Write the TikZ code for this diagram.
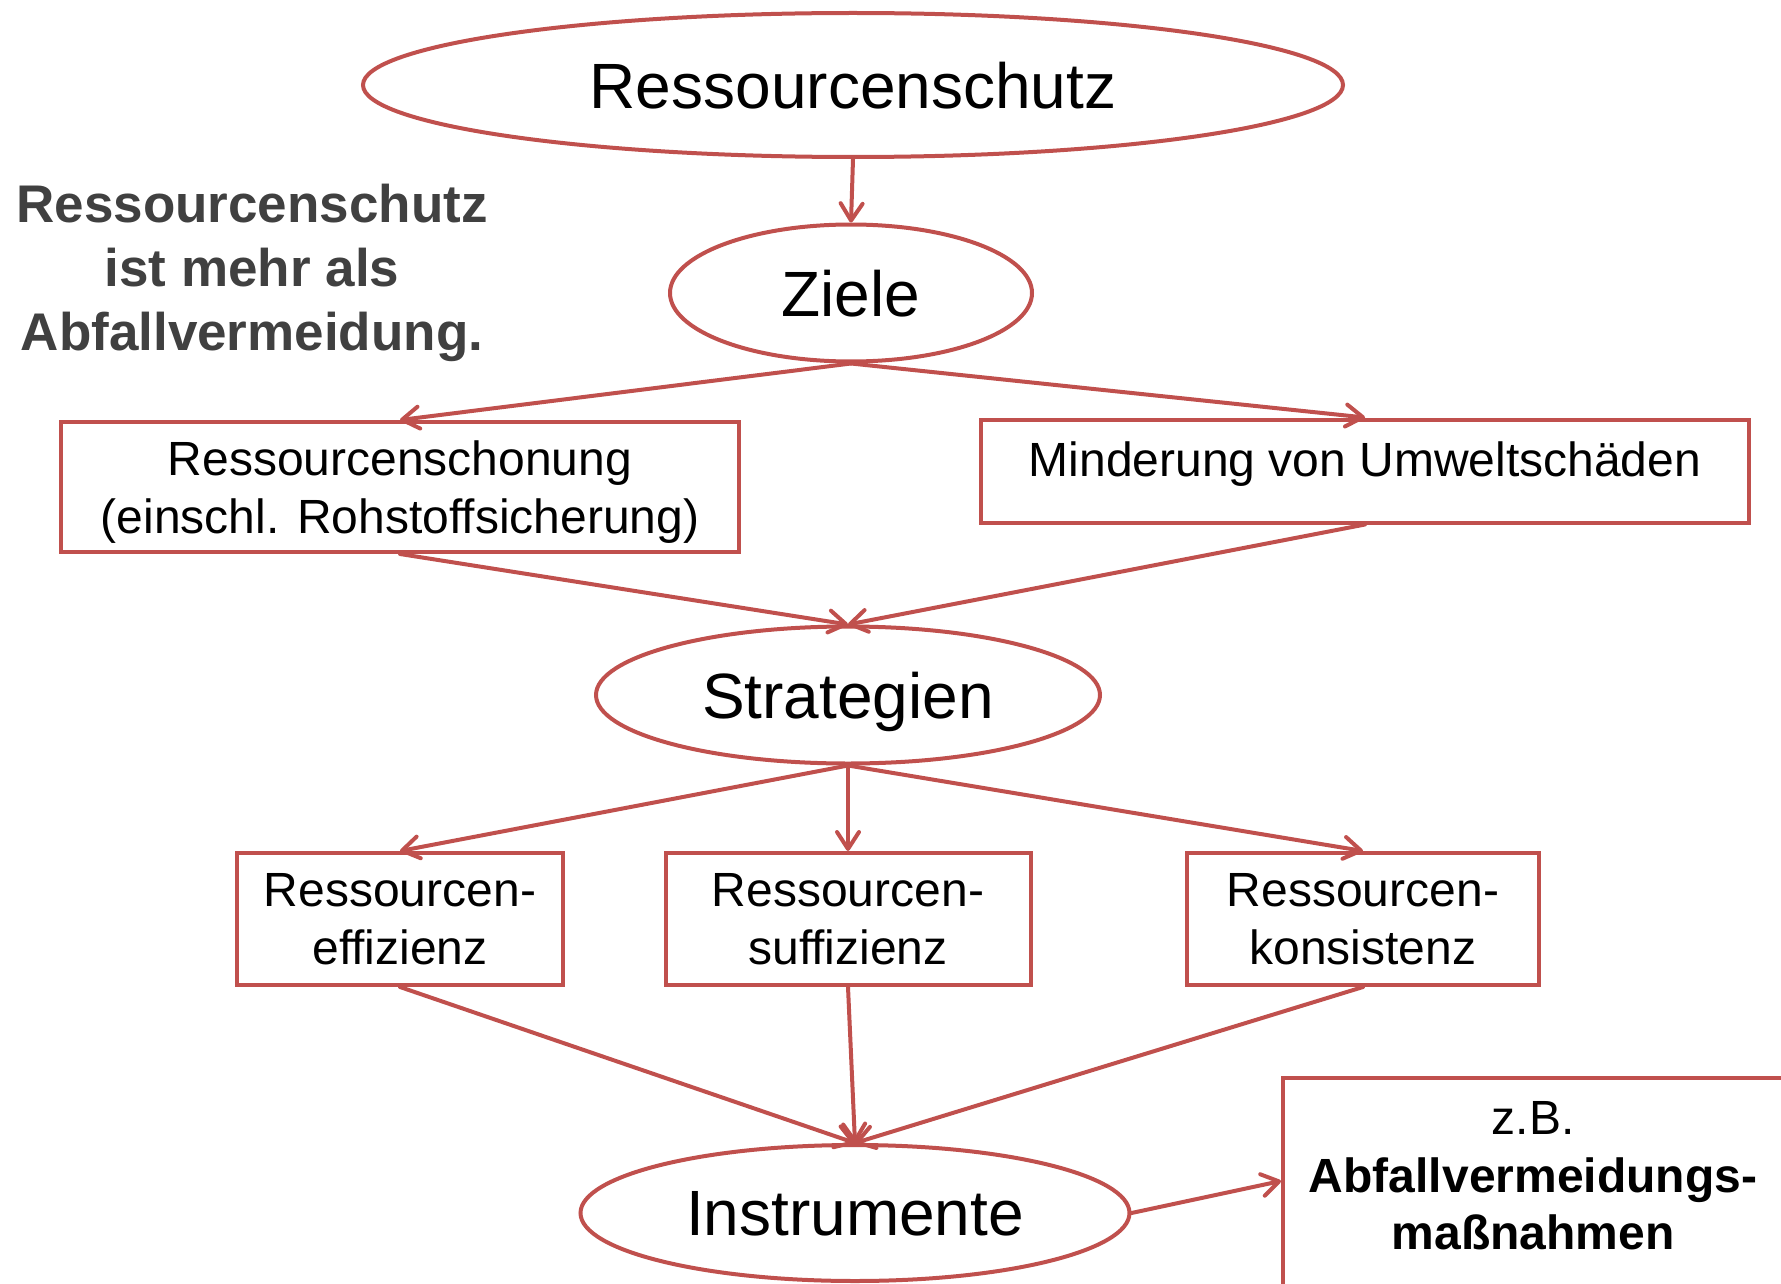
\documentclass[tikz,border=0pt]{standalone}
\usepackage{fontspec}
\setmainfont{Liberation Sans}
\usetikzlibrary{shapes.geometric,arrows.meta}
\definecolor{rahmen}{HTML}{C0504D}
\definecolor{grautext}{HTML}{404040}
\tikzset{
  oval/.style={ellipse,draw=rahmen,line width=4pt,inner sep=0pt,text depth=0pt,font=\fontsize{64}{77}\selectfont},
  kasten/.style={rectangle,draw=rahmen,line width=4pt,inner sep=0pt,align=center,font=\fontsize{48}{57.6}\selectfont},
  pfeil/.style={draw=rahmen,line width=4pt,line cap=round,-{Straight Barb[length=17pt,width=22pt,round]}},
}
\begin{document}
\begin{tikzpicture}[x=1pt,y=-1pt]
  \clip (0,0) rectangle (1781,1284);
  % Ebenen
  \node[oval,minimum width=980pt,minimum height=144pt] (schutz) at (853,85) {Ressourcenschutz};
  \node[oval,minimum width=362pt,minimum height=137pt] (ziele) at (851,293) {Ziele};
  \node[oval,minimum width=504pt,minimum height=137pt] (strat) at (848,695) {Strategien};
  \node[oval,minimum width=549pt,minimum height=136pt] (instr) at (855,1213) {Instrumente};
  % Ziele
  \node[kasten,minimum width=678pt,minimum height=130pt,text depth=0pt] (schonung) at (400,487) {Ressourcenschonung\\(einschl. Rohstoffsicherung)};
  \node[kasten,minimum width=768pt,minimum height=103pt,text depth=24pt] (minderung) at (1365,471) {Minderung von Umweltschäden};
  % Strategien
  \node[kasten,minimum width=326pt,minimum height=132pt] (effizienz) at (400,919) {Ressourcen-\\effizienz};
  \node[kasten,minimum width=365pt,minimum height=132pt] (suffizienz) at (848,919) {Ressourcen-\\suffizienz};
  \node[kasten,minimum width=352pt,minimum height=132pt] (konsistenz) at (1363,919) {Ressourcen-\\konsistenz};
  % Beispiel
  \node[kasten,minimum width=500pt,minimum height=240pt,text depth=45pt] (beispiel) at (1533,1198) {z.B.\\\textbf{Abfallvermeidungs-}\\\textbf{maßnahmen}};
  \node[align=center,text=grautext,font=\bfseries\fontsize{53}{64}\selectfont] (merke) at (252,273) {Ressourcenschutz\\ist mehr als\\Abfallvermeidung.};
  % Pfeile
  \draw[pfeil] (schutz.south) -- (ziele.north);
  \foreach \z in {schonung,minderung}{%
    \draw[pfeil] (ziele.south) -- (\z.north);
    \draw[pfeil] (\z.south) -- (strat.north);
  }
  \foreach \s in {effizienz,suffizienz,konsistenz}{%
    \draw[pfeil] (strat.south) -- (\s.north);
    \draw[pfeil] (\s.south) -- (instr.north);
  }
  \draw[pfeil] (instr.east) -- ([yshift=17pt]beispiel.west);
\end{tikzpicture}
\end{document}
